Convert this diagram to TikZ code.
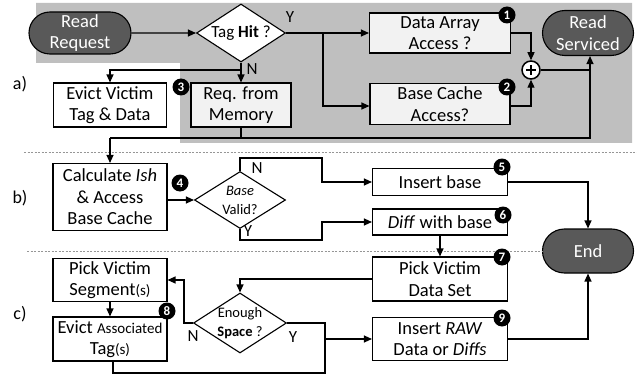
\documentclass[tikz,border=0pt]{standalone}
\usepackage{fontspec}
\setmainfont{Carlito}
\usetikzlibrary{shapes.geometric,shapes.misc,arrows.meta,calc}
\definecolor{bggray}{RGB}{191,191,191}
\definecolor{darkfill}{RGB}{89,89,89}
\definecolor{lightfill}{RGB}{242,242,242}
\definecolor{sepgray}{RGB}{150,150,150}
\begin{document}
\begin{tikzpicture}[x=1pt,y=-1pt,
  mainfont/.style={font=\fontsize{18.5}{21.5}\selectfont},
  box/.style={draw, line width=1.1pt, align=center, inner sep=0pt, fill=white, mainfont},
  lbox/.style={box, fill=lightfill},
  term/.style={draw, line width=1.1pt, rounded rectangle, fill=darkfill, text=white, align=center, inner sep=0pt, mainfont},
  dia/.style={draw, line width=1.1pt, diamond, fill=white, inner sep=0pt},
  dtext/.style={align=center, inner sep=0pt, font=\fontsize{14.5}{19}\selectfont},
  badge/.style={circle, fill=black, text=white, inner sep=0pt, minimum size=17pt, font=\fontsize{13}{13}\selectfont\bfseries},
  yn/.style={inner sep=0pt, font=\fontsize{17}{17}\selectfont},
  sec/.style={inner sep=0pt, font=\fontsize{18}{18}\selectfont},
  line/.style={line width=1.2pt},
  arr/.style={line width=1.2pt, -{Triangle[length=8pt,width=7pt]}},
  sep/.style={sepgray, line width=0.8pt, dash pattern=on 2pt off 1.5pt}]
\useasboundingbox (0,0) rectangle (637,377);
% gray background of part a)
\fill[bggray] (36,3) -- (632,3) -- (632,143) -- (180,143) -- (180,63) -- (36,63) -- cycle;

% separators
\draw[sep] (24,152) -- (637,152);

% ---------- a) ----------
\node[term, minimum width=102pt, minimum height=42pt] (rr) at (80,33) {Read\\Request};
\node[dia, minimum width=89pt, minimum height=58pt] (th) at (241,33) {};
\node[dtext, font=\fontsize{17}{19}\selectfont] at (th) {Tag \textbf{Hit} ?};
\node[lbox, minimum width=141pt, minimum height=40pt] (da) at (440,33) {Data Array\\Access ?};
\node[lbox, minimum width=140pt, minimum height=41pt] (bc) at (440,104) {Base Cache\\Access?};
\node[circle, draw, line width=1.5pt, fill=white, minimum size=18pt, inner sep=0pt] (plus) at (531,70) {};
\draw[line width=1.5pt] ($(plus.center)+(-5,0)$) -- ($(plus.center)+(5,0)$)
                        ($(plus.center)+(0,-5)$) -- ($(plus.center)+(0,5)$);
\node[term, minimum width=91pt, minimum height=45pt] (rs) at (588,33) {Read\\Serviced};
\node[box, minimum width=113pt, minimum height=44pt] (ev) at (110,105) {Evict Victim\\Tag \& Data};
\node[lbox, minimum width=100pt, minimum height=44pt] (rm) at (241,105) {Req. from\\Memory};

\node[badge] (n1) at (507,15) {1};
\node[badge] (n2) at (507,87) {2};
\node[badge] (n3) at (181,87) {3};

\coordinate (b1) at (323,33);
\coordinate (tn) at (241,70);
\coordinate (jr) at (590,138);
\coordinate (jl) at (110,138);

\draw[arr] (rr) -- (th);
\draw[line] (th.east) -- (b1);
\draw[arr] (b1) -- (da.west);
\draw[arr] (b1) |- ($(bc.west)+(0,2)$);
\draw[arr] (da.east) -| (plus.north);
\draw[arr] ($(bc.east)+(0,2)$) -| (plus.south);
\draw[line] (plus.east) -- (plus.east -| jr);
\draw[arr] (th.south) -- (rm.north);
\draw[arr] (tn) -| (ev.north);
\draw[arr] (rm.south) |- (jr) -- (jr |- rs.south);
\draw[line] (rm.south |- jr) -- (jl);

\node[yn] at (290,17) {Y};
\node[yn] at (252,69) {N};
\node[sec] at (20,84) {a)};

% ---------- b) ----------
\node[box, minimum width=114pt, minimum height=67pt] (calc) at (110,197) {Calculate \textit{Ish}\\\& Access\\Base Cache};
\node[dia, minimum width=91pt, minimum height=57pt] (bv) at (240,200) {};
\node[dtext] at (bv) {\textit{Base}\\Valid?};
\node[box, minimum width=135pt, minimum height=27pt] (ib) at (440,182) {Insert base};
\node[box, minimum width=135pt, minimum height=26pt] (df) at (440,222) {\textit{Diff} with base};
\node[term, minimum width=91pt, minimum height=44pt] (end) at (588,251) {End};

\node[badge] (n4) at (180,183) {4};
\node[badge] (n5) at (502,167) {5};
\node[badge] (n6) at (503,215) {6};

\draw[arr] (jl) -- (calc.north);
\draw[arr] (calc.east |- bv.west) -- (bv.west);
\draw[arr] (bv.north) |- (322,158) |- (ib.west);
\draw[arr] (bv.south) |- (322,240) |- (df.west);
\draw[arr] (ib.east) -| (end.north);

\node[yn] at (257,168) {N};
\node[yn] at (248,231) {Y};
\node[sec] at (20,198) {b)};

% ---------- c) ----------
\draw[sep] (27,251) -- (end.west);
\node[box, minimum width=135pt, minimum height=44pt] (pv) at (440,279) {Pick Victim\\Data Set};
\node[dia, minimum width=93pt, minimum height=60pt] (es) at (240,323) {};
\node[dtext] at (es) {Enough\\\textbf{Space} ?};
\node[box, minimum width=114pt, minimum height=43pt] (ps) at (110,280) {Pick Victim\\Segment{\fontsize{15}{15}\selectfont(s)}};
\node[box, minimum width=114pt, minimum height=44pt] (ea) at (110,339) {Evict {\fontsize{15}{15}\selectfont Associated}\\Tag{\fontsize{15}{15}\selectfont(s)}};
\node[box, minimum width=135pt, minimum height=43pt] (ir) at (440,339) {Insert \textit{RAW}\\Data or \textit{Diffs}};

\node[badge] (n7) at (502,257) {7};
\node[badge] (n8) at (167,311) {8};
\node[badge] (n9) at (502,318) {9};

\coordinate (k) at (325,339);
\coordinate (kb) at (325,373);

\draw[arr] (df.south) -- (pv.north);
\draw[arr] (pv.west) -| (es.north);
\draw[arr] (es.west) -- ++(-9,0) |- (ps.east);
\draw[arr] (ps.south) -- (ea.north);
\draw[line] (es.east) -| (k);
\draw[line] ($(ea.south)+(3,0)$) |- (kb) -- (k);
\draw[arr] (k) -- (ir.west);
\draw[arr] (ir.east) -| (end.south);

\node[yn] at (193,336) {N};
\node[yn] at (293,337) {Y};
\node[sec] at (20,314) {c)};
\end{tikzpicture}
\end{document}
